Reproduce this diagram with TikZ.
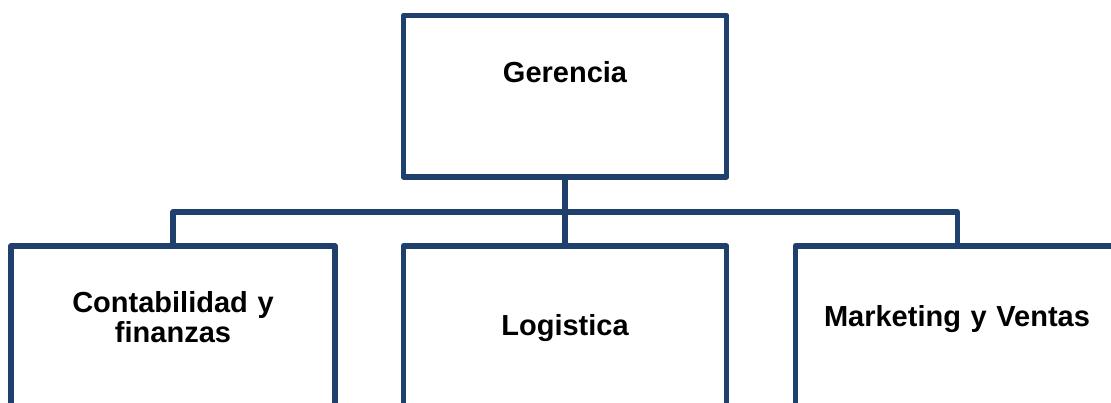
\documentclass[tikz,border=0pt]{standalone}
\usepackage{fontspec}
\setmainfont{Liberation Sans}
\definecolor{orgblue}{RGB}{31,63,109}
\tikzset{
  orgbox/.style={draw=orgblue, line width=5.5pt, line join=round, fill=white, rectangle, inner sep=0pt},
  orgline/.style={draw=orgblue, line width=5.5pt, line join=round},
  orgtext/.style={font=\bfseries\fontsize{29}{30}\selectfont, text=black, inner sep=0pt, anchor=base, text width=320pt, align=center}
}
\begin{document}
\begin{tikzpicture}[x=1pt,y=-1pt]
\useasboundingbox (0,0) rectangle (1111,403);
\clip (0,0) rectangle (1111,403);
\fill[white] (0,0) rectangle (1111,403);
% connectors first
\coordinate (bar) at (565,212);
\node[orgbox, minimum width=323.2pt, minimum height=161.5pt] (g) at (565,96.25) {};
\node[orgbox, minimum width=324pt, minimum height=320pt] (c) at (173,406) {};
\node[orgbox, minimum width=323.2pt, minimum height=320pt] (m) at (565,406) {};
\node[orgbox, minimum width=324pt, minimum height=320pt] (v) at (957.3,406) {};
\draw[orgline] (g.south) -- (m.north);
\draw[orgline] (c.north) |- (bar) -| (v.north);
\node[orgtext] (tg) at (565,83) {Gerencia};
\node[orgtext] (tc) at (173,312.7) {Contabilidad y\\finanzas};
\node[orgtext] (tm) at (565,335) {Logistica};
\node[orgtext] (tv) at (957,326.7) {Marketing y Ventas};
\end{tikzpicture}
\end{document}
